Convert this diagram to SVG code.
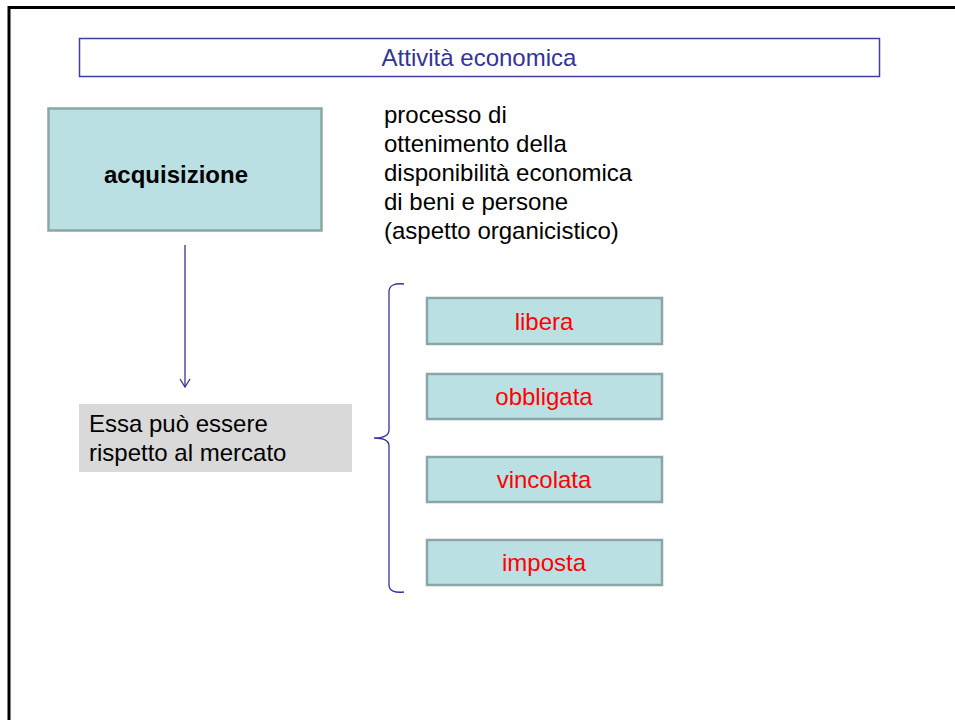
<svg xmlns="http://www.w3.org/2000/svg" width="955" height="720" viewBox="0 0 955 720">
<defs>
<style>
text{font-family:"Liberation Sans",Arial,sans-serif;font-size:24px}
.teal{fill:#bbe0e3;stroke:#8aa6a6;stroke-width:2.5}
.red{fill:#ff0000;text-anchor:middle}
.blk{fill:#000}
.conn{stroke:#333399;stroke-width:1.3;fill:none}
</style>
<marker id="arr" markerWidth="12" markerHeight="12" refX="10" refY="6" orient="auto" markerUnits="userSpaceOnUse" viewBox="0 0 12 12">
<path d="M2,1 L10,6 L2,11" fill="none" stroke="#333399" stroke-width="1.3"/>
</marker>
</defs>
<rect width="955" height="720" fill="#fff"/>
<path d="M9,720 L9,7.5 L955,7.5" fill="none" stroke="#000" stroke-width="3"/>
<g id="title">
<rect x="79.5" y="38.5" width="800" height="38" fill="#fff" stroke="#3f3fa0" stroke-width="1.5"/>
<text x="479" y="66" text-anchor="middle" fill="#333399">Attività economica</text>
</g>
<g id="acquisizione">
<rect class="teal" x="48.5" y="108.5" width="273" height="122"/>
<text x="176" y="183" text-anchor="middle" class="blk" font-weight="bold">acquisizione</text>
</g>
<g id="descrizione">
<text class="blk" x="384" y="123">processo di</text>
<text class="blk" x="384" y="152">ottenimento della</text>
<text class="blk" x="384" y="181">disponibilità economica</text>
<text class="blk" x="384" y="210">di beni e persone</text>
<text class="blk" x="384" y="239">(aspetto organicistico)</text>
</g>
<g id="essa">
<rect x="79" y="404" width="273" height="68" fill="#d9d9d9"/>
<text class="blk" x="89" y="432">Essa può essere</text>
<text class="blk" x="89" y="461">rispetto al mercato</text>
</g>
<g id="libera">
<rect class="teal" x="427" y="298" width="235" height="46"/>
<text class="red" x="544" y="330">libera</text>
</g>
<g id="obbligata">
<rect class="teal" x="427" y="374" width="235" height="45"/>
<text class="red" x="544" y="405">obbligata</text>
</g>
<g id="vincolata">
<rect class="teal" x="427" y="457" width="235" height="45"/>
<text class="red" x="544" y="488">vincolata</text>
</g>
<g id="imposta">
<rect class="teal" x="427" y="540" width="235" height="45"/>
<text class="red" x="544" y="571">imposta</text>
</g>
<g id="connectors">
<line class="conn" x1="185" y1="245" x2="185" y2="387" marker-end="url(#arr)"/>
<path class="conn" d="M404,284 C395,283 389,285 389,292 L389,430 C389,436 382,438 374,438 C382,438 389,440 389,446 L389,585 C389,591 395,593 404,592"/>
</g>
</svg>
